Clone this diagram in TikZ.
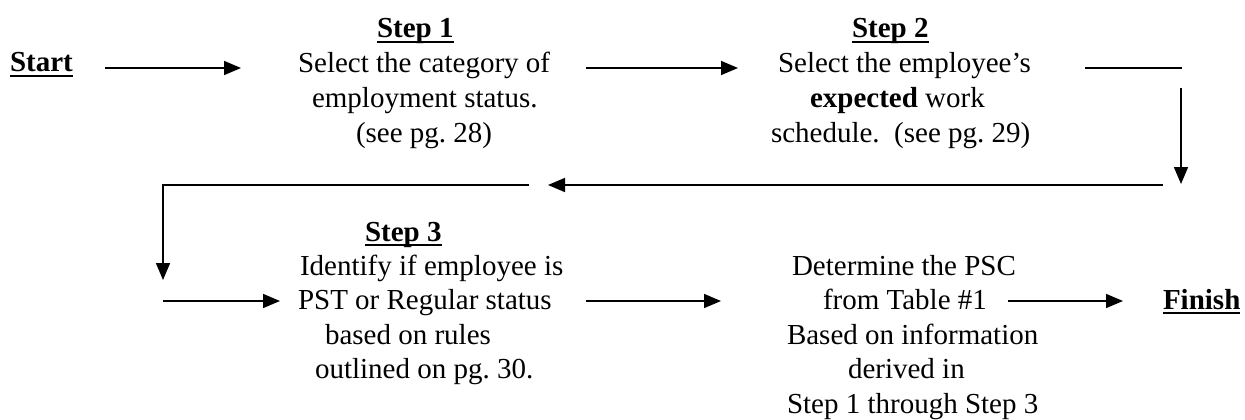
\documentclass[tikz,border=0pt]{standalone}
\usepackage{fontspec}
\setmainfont{Liberation Serif}
\usetikzlibrary{arrows.meta}
\frenchspacing
\newcommand\myul[1]{\setbox0\hbox{#1}\rlap{\rule[-5pt]{\wd0}{1.6pt}}\box0}
\begin{document}
\begin{tikzpicture}[x=1pt,y=-1pt,
  txt/.style={anchor=base west,inner sep=0pt,outer sep=0pt,font=\fontsize{29}{34.5}\selectfont},
  ttl/.style={txt,font=\fontsize{29}{34.5}\selectfont\bfseries},
  conn/.style={line width=1.6pt},
  arr/.style={conn,-{Triangle[length=17pt,width=14pt]}}]
\useasboundingbox (0,0) rectangle (1245,420);
% row 1
\node[ttl] (start) at (10,72) {\myul{Start}};
\node[ttl] (s1t) at (377,38) {\myul{Step 1}};
\node[txt] (s1a) at (298,73) {Select the category of};
\node[txt] (s1b) at (312,107) {employment status.};
\node[txt] (s1c) at (356,142) {(see pg. 28)};
\node[ttl] (s2t) at (852,38) {\myul{Step 2}};
\node[txt] (s2a) at (778,73) {Select the employee’s};
\node[txt] (s2b) at (810,107) {\textbf{expected} work};
\node[txt] (s2c) at (771,142) {schedule.\ \ (see pg. 29)};
% row 2
\node[ttl] (s3t) at (365,241) {\myul{Step 3}};
\node[txt] (s3a) at (300,275) {Identify if employee is};
\node[txt] (s3b) at (298,309) {PST or Regular status};
\node[txt] (s3c) at (325,344) {based on rules};
\node[txt] (s3d) at (315,378) {outlined on pg. 30.};
\node[txt] (d1) at (792,275) {Determine the PSC};
\node[txt] (d2) at (823,309) {from Table \#1};
\node[txt] (d3) at (787,344) {Based on information};
\node[txt] (d4) at (848,378) {derived in};
\node[txt] (d5) at (787,413) {Step 1 through Step 3};
\node[ttl] (fin) at (1163,309) {\myul{Finish}};
% connector end points
\coordinate (a1s) at (105,68);  \coordinate (a1e) at (241,68);
\coordinate (a2s) at (586,68);  \coordinate (a2e) at (738,68);
\coordinate (l3s) at (1085,68); \coordinate (l3e) at (1182,68);
\coordinate (v1s) at (1181,88); \coordinate (v1e) at (1181,184);
\coordinate (h1s) at (1163,185); \coordinate (h1e) at (548,185);
\coordinate (h2s) at (529,185); \coordinate (v2e) at (163,280);
\coordinate (b1s) at (163,301); \coordinate (b1e) at (280,301);
\coordinate (b2s) at (586,301); \coordinate (b2e) at (721,301);
\coordinate (b3s) at (1008,301); \coordinate (b3e) at (1123,301);
% connectors
\draw[arr] (a1s) -- (a1e);
\draw[arr] (a2s) -- (a2e);
\draw[conn] (l3s) -- (l3e);
\draw[arr] (v1s) -- (v1e);
\draw[arr] (h1s) -- (h1e);
\draw[arr] (h2s) -| (v2e);
\draw[arr] (b1s) -- (b1e);
\draw[arr] (b2s) -- (b2e);
\draw[arr] (b3s) -- (b3e);
\end{tikzpicture}
\end{document}
